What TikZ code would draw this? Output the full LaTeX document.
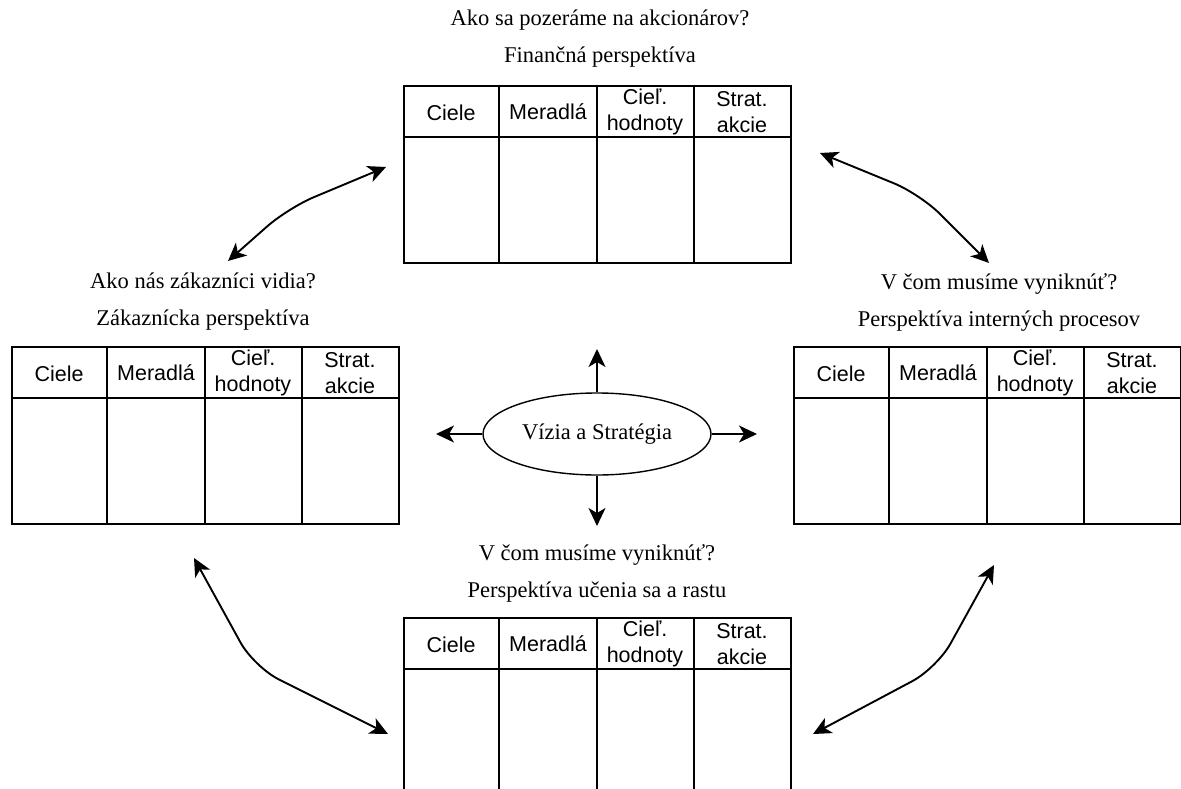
\documentclass[tikz,border=0pt]{standalone}
\usepackage{fontspec}
\setmainfont{Liberation Serif}
\newfontfamily\tabfont{Liberation Sans}
\usetikzlibrary{arrows.meta,shapes.geometric}
\begin{document}
\begin{tikzpicture}[x=1pt,y=-1pt,
tab/.style={draw,line width=1.8pt,minimum width=387pt,minimum height=177pt,inner sep=0pt,anchor=north west},
hdr/.style={font=\tabfont\fontsize{21.5}{26}\selectfont,align=center,inner sep=0pt},
question/.style={font=\fontsize{22.5}{37}\selectfont,align=center,inner sep=0pt},
tip/.style={-{Stealth[length=18pt,width=17pt,inset=5pt]}},
link/.style={line width=1.9pt,{Stealth[length=18pt,width=17pt,inset=5pt]}-{Stealth[length=18pt,width=17pt,inset=5pt]},rounded corners=28pt}]
\useasboundingbox (0,0) rectangle (1181,789);
\foreach \tx/\ty/\tn in {403/85/fin,11/346/zak,793/346/int,403/617/uce}{
\node[tab] (\tn) at (\tx,\ty) {};
\draw[line width=1.8pt] (\tx,\ty+52) -- ++(387,0);
\foreach \c in {96,194,291}\draw[line width=1.8pt] (\tx+\c,\ty) -- ++(0,177);
\node[hdr] at (\tx+48,\ty+28) {Ciele};
\node[hdr] at (\tx+145,\ty+27) {Meradlá};
\node[hdr] at (\tx+242,\ty+27) {Cieľ.\\hodnoty};
\node[hdr] at (\tx+339,\ty+27) {Strat.\\akcie};
}
\node[question] (qfin) at (600,39) {Ako sa pozeráme na akcionárov?\\Finančná perspektíva};
\node[question] (qzak) at (203,302) {Ako nás zákazníci vidia?\\Zákaznícka perspektíva};
\node[question] (qint) at (999,302) {V čom musíme vyniknúť?\\Perspektíva interných procesov};
\node[question] (quce) at (597,573) {V čom musíme vyniknúť?\\Perspektíva učenia sa a rastu};
\node[draw,ellipse,line width=1.4pt,minimum width=228pt,minimum height=82pt,inner sep=0pt,
font=\fontsize{22.5}{26}\selectfont] (vis) at (597,434) {Vízia a Stratégia};
\coordinate (vn) at (597,349);
\coordinate (vs) at (597,526);
\coordinate (vw) at (436,434);
\coordinate (ve) at (757,434);
\draw[tip,line width=1.9pt] (vis.north) -- (vn);
\draw[tip,line width=1.9pt] (vis.south) -- (vs);
\draw[tip,line width=1.9pt] (vis.west) -- (vw);
\draw[tip,line width=1.9pt] (vis.east) -- (ve);
\coordinate (tl1) at (386,167);
\coordinate (tl2) at (288,208);
\coordinate (tl3) at (228,261);
\coordinate (tr1) at (820,153);
\coordinate (tr2) at (920,194);
\coordinate (tr3) at (989,263);
\coordinate (bl1) at (194,558);
\coordinate (bl2) at (254,667);
\coordinate (bl3) at (388,734);
\coordinate (br1) at (994,565);
\coordinate (br2) at (937,668);
\coordinate (br3) at (813,734);
\draw[link] (tl1) -- (tl2) -- (tl3);
\draw[link] (tr1) -- (tr2) -- (tr3);
\draw[link] (bl1) -- (bl2) -- (bl3);
\draw[link] (br1) -- (br2) -- (br3);
\end{tikzpicture}
\end{document}
